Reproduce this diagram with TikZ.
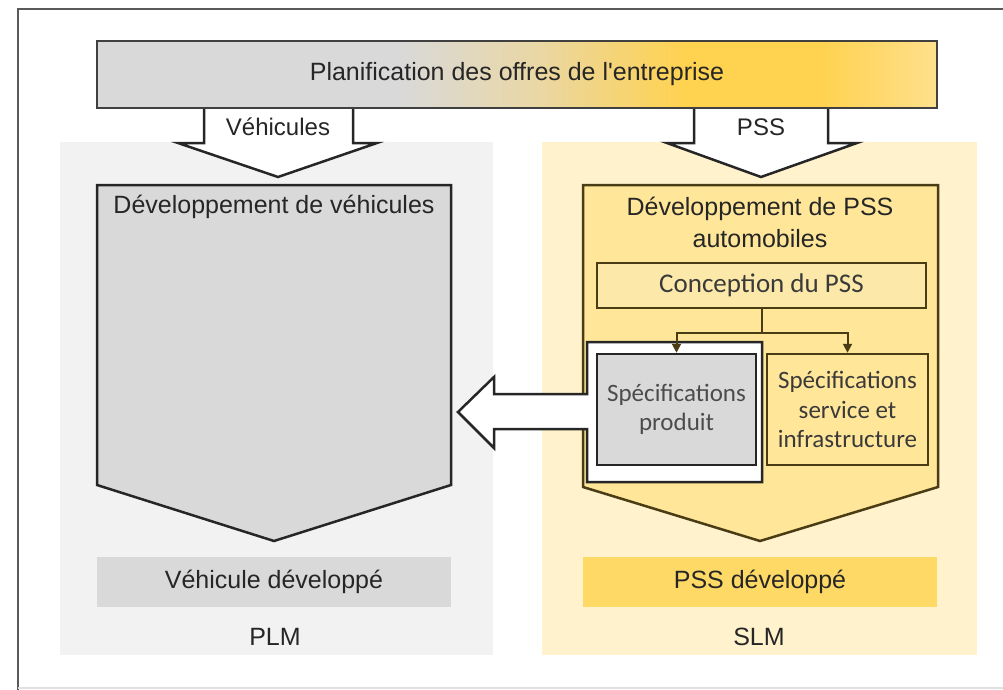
\documentclass[tikz,border=0pt]{standalone}
\usepackage{fontspec}
\setmainfont{Liberation Sans}
\newfontfamily\arialf{Liberation Sans}
\newfontfamily\calib{Carlito}
\usetikzlibrary{arrows.meta}
\definecolor{txtc}{HTML}{262626}
\definecolor{ctxtc}{HTML}{3A3A3A}
\definecolor{framec}{HTML}{5A5A5A}
\definecolor{lineg}{HTML}{262626}
\definecolor{liney}{HTML}{4A3C14}
\definecolor{panelg}{HTML}{F2F2F2}
\definecolor{panely}{HTML}{FFF2CC}
\definecolor{boxg}{HTML}{D9D9D9}
\definecolor{boxy}{HTML}{FFE699}
\definecolor{boxyl}{HTML}{FCE9AA}
\definecolor{bary}{HTML}{FFD966}
\definecolor{bargray}{HTML}{D9D9D9}
\definecolor{barmid}{HTML}{E9D7A6}
\definecolor{baryel}{HTML}{FFD24F}
\definecolor{barlight}{HTML}{FFE08C}
\pgfdeclarehorizontalshading{barshade}{100bp}{color(0bp)=(bargray); color(25bp)=(bargray); color(43bp)=(bargray); color(51bp)=(barmid); color(60bp)=(baryel); color(68bp)=(baryel); color(75bp)=(barlight); color(100bp)=(barlight)}
\begin{document}
\begin{tikzpicture}[x=1pt,y=-1pt,line join=miter,
  txt/.style={font=\arialf\fontsize{25}{32}\selectfont, text=txtc, inner sep=0pt, align=center},
  ctxt/.style={font=\calib\fontsize{25}{29.5}\selectfont, text=ctxtc, inner sep=0pt, align=center},
  gline/.style={draw=lineg, line width=2.5pt},
  yline/.style={draw=liney, line width=2.5pt},
  conn/.style={draw=liney, line width=2pt},
  flatbox/.style={inner sep=0pt, minimum width=354, minimum height=50, font=\arialf\fontsize{25}{30}\selectfont, text=txtc}
]
\useasboundingbox (0,0) rectangle (1003,690);
\fill[white] (0,0) rectangle (1003,690);
% outer frame
\draw[draw=framec, line width=2.5pt] (1003,9) -- (18,9) -- (18,690);
\draw[draw=black!12, line width=1.5pt] (18,688) -- (1003,688);
% columns
\fill[panelg] (60,142) rectangle (493,655);
\fill[panely] (542,142) rectangle (977,655);
% down arrows
\fill[white] (204,108) -- (204,143) -- (178,143) -- (278,177) -- (377,143) -- (353,143) -- (353,108) -- cycle;
\draw[gline] (204,106) -- (204,143) -- (178,143) -- (278,177) -- (377,143) -- (353,143) -- (353,106);
\fill[white] (694,108) -- (694,143) -- (667,143) -- (761,177) -- (857,143) -- (828,143) -- (828,108) -- cycle;
\draw[gline] (694,106) -- (694,143) -- (667,143) -- (761,177) -- (857,143) -- (828,143) -- (828,106);
\node[txt, font=\arialf\fontsize{24}{28}\selectfont] (lveh) at (278,127) {Véhicules};
\node[txt, font=\arialf\fontsize{24}{28}\selectfont] (lpss) at (761,127) {PSS};
% top bar
\node[draw=black!75, line width=2.5pt, shading=barshade, minimum width=840, minimum height=67, inner sep=0pt,
  font=\arialf\fontsize{25}{30}\selectfont, text=txtc] (plan) at (517,74.5) {Planification des offres de l\symbol{39}entreprise};
% vehicle development
\draw[gline, fill=boxg] (97,185) -- (451,185) -- (451,485) -- (274,541) -- (97,485) -- cycle;
\node[txt] (vdev) at (274,207) {Développement de véhicules};
% PSS development
\draw[yline, fill=boxy] (583,185) -- (938,185) -- (938,487) -- (760,541) -- (583,487) -- cycle;
\node[txt] (pdev) at (760,222) {Développement de PSS\\automobiles};
\node[yline, fill=boxyl, minimum width=329, minimum height=45, inner sep=0pt,
  font=\calib\fontsize{27}{30}\selectfont, text=ctxtc] (concep) at (761.5,285.5) {Conception du PSS};
% white frame + big arrow
\draw[gline, fill=white] (587,342) -- (762,342) -- (762,482) -- (587,482) -- (587,429) -- (494,429) -- (494,448)
  -- (458,412) -- (494,377) -- (494,394) -- (587,394) -- cycle;
\node[gline, fill=boxg, minimum width=159, minimum height=111, inner sep=0pt] (sprod) at (676.5,409.5) {};
\node[ctxt, text=black!70] (tprod) at (sprod.center) {Spécifications\\produit};
\node[yline, fill=boxy, minimum width=161, minimum height=111, inner sep=0pt] (sserv) at (847.5,409.5) {};
\node[ctxt] (tserv) at (sserv.center) {Spécifications\\service et\\infrastructure};
% connectors
\draw[conn] (concep.south) -- ++(0,24) coordinate (j);
\draw[conn, -{Triangle[length=9pt,width=9pt]}] (j) -| (sprod.north);
\draw[conn, -{Triangle[length=9pt,width=9pt]}] (j) -| (sserv.north);
% results
\node[flatbox, fill=boxg] (vres) at (274,582) {Véhicule développé};
\node[flatbox, fill=bary] (pres) at (760,582) {PSS développé};
\node[txt] (plm) at (275,637) {PLM};
\node[txt] (slm) at (759,637) {SLM};
\end{tikzpicture}
\end{document}
